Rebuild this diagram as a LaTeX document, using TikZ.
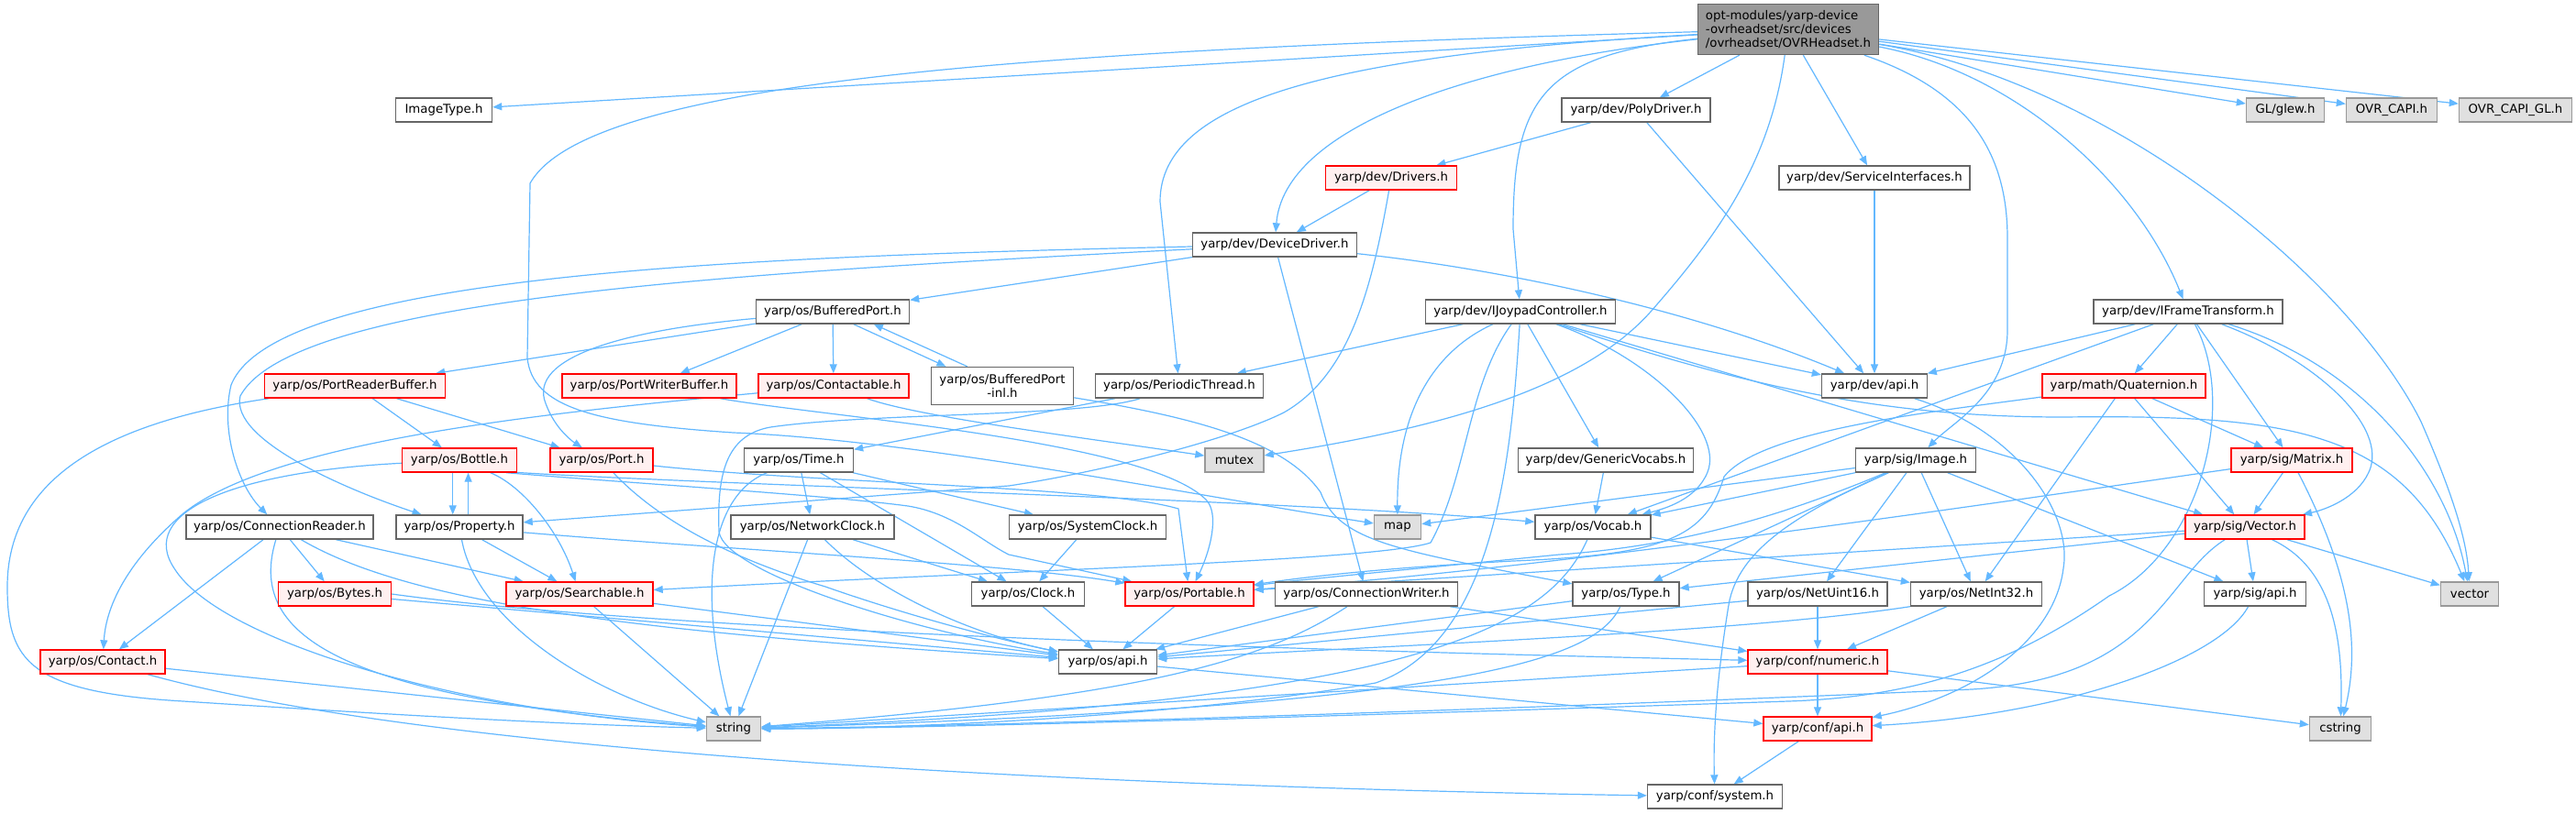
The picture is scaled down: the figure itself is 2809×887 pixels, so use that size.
\documentclass[tikz,border=0pt]{standalone}
\usepackage{fontspec}
\setmainfont{DejaVu Sans}
\usepackage{tikz}
\usetikzlibrary{arrows.meta}
\pgfdeclarelayer{background}
\pgfsetlayers{background,main}
\definecolor{incblue}{HTML}{63B8FF}
\definecolor{boxgrey}{HTML}{666666}
\definecolor{sysgrey}{HTML}{999999}
\definecolor{sysfill}{HTML}{E0E0E0}
\definecolor{redfill}{HTML}{FFF0F0}
\definecolor{rootfill}{HTML}{999999}

\begin{document}
\begin{tikzpicture}[
  x=1pt, y=-1pt,
  hdr/.style={rectangle, draw=boxgrey, fill=white, line width=1.4pt,
              font=\fontsize{13.3}{15.3}\selectfont, inner sep=0pt,
              minimum height=26, align=center},
  hdrred/.style={hdr, draw=red, fill=redfill},
  hdrsys/.style={hdr, draw=sysgrey, fill=sysfill},
  hdrtop/.style={hdr, fill=rootfill, align=left},
  arr/.style={draw=incblue, line width=1.2pt, -{Triangle[length=10pt,width=8pt]}}
]
\useasboundingbox (0,0) rectangle (2809,887);
% the header itself
\node[hdrtop, minimum width=197, minimum height=55] (root) at (1950,32)
  {opt-modules/yarp-device\\-ovrheadset/src/devices\\/ovrheadset/OVRHeadset.h};
% rank 1
\node[hdr, minimum width=105] (imgtype) at (484,120) {ImageType.h};
\node[hdr, minimum width=162] (polydrv) at (1784,120) {yarp/dev/PolyDriver.h};
\node[hdrsys, minimum width=85] (glew) at (2492,120) {GL/glew.h};
\node[hdrsys, minimum width=99] (ovrcapi) at (2608,120) {OVR\_CAPI.h};
\node[hdrsys, minimum width=123] (ovrcapigl) at (2743,120) {OVR\_CAPI\_GL.h};
% rank 2
\node[hdrred, minimum width=143] (drivers) at (1517,194) {yarp/dev/Drivers.h};
\node[hdr, minimum width=208] (srvif) at (2044,194) {yarp/dev/ServiceInterfaces.h};
% rank 3
\node[hdr, minimum width=179] (devdrv) at (1390,267) {yarp/dev/DeviceDriver.h};
% rank 4
\node[hdr, minimum width=167] (bufport) at (908,340) {yarp/os/BufferedPort.h};
\node[hdr, minimum width=207] (joypad) at (1658,340) {yarp/dev/IJoypadController.h};
\node[hdr, minimum width=206] (frametf) at (2386,340) {yarp/dev/IFrameTransform.h};
% rank 5
\node[hdrred, minimum width=197] (prbuf) at (387,421) {yarp/os/PortReaderBuffer.h};
\node[hdrred, minimum width=190] (pwbuf) at (708,421) {yarp/os/PortWriterBuffer.h};
\node[hdrred, minimum width=164] (contactable) at (909,421) {yarp/os/Contactable.h};
\node[hdr, minimum width=155, minimum height=41] (bpinl) at (1093,421) {yarp/os/BufferedPort\\-inl.h};
\node[hdr, minimum width=183] (perthread) at (1286,421) {yarp/os/PeriodicThread.h};
\node[hdr, minimum width=115] (devapi) at (2044,421) {yarp/dev/api.h};
\node[hdrred, minimum width=178] (quat) at (2316,421) {yarp/math/Quaternion.h};
% rank 6
\node[hdrred, minimum width=125] (bottle) at (501,502) {yarp/os/Bottle.h};
\node[hdrred, minimum width=112] (port) at (656,502) {yarp/os/Port.h};
\node[hdr, minimum width=119] (time) at (871,502) {yarp/os/Time.h};
\node[hdrsys, minimum width=64] (mutex) at (1346,502) {mutex};
\node[hdr, minimum width=191] (genvoc) at (1751,502) {yarp/dev/GenericVocabs.h};
\node[hdr, minimum width=131] (sigimage) at (2089,502) {yarp/sig/Image.h};
\node[hdrred, minimum width=132] (matrix) at (2499,502) {yarp/sig/Matrix.h};
% rank 7
\node[hdr, minimum width=204] (connreader) at (305,575) {yarp/os/ConnectionReader.h};
\node[hdr, minimum width=138] (property) at (501,575) {yarp/os/Property.h};
\node[hdr, minimum width=178] (netclock) at (886,575) {yarp/os/NetworkClock.h};
\node[hdr, minimum width=171] (sysclock) at (1186,575) {yarp/os/SystemClock.h};
\node[hdrsys, minimum width=51] (map) at (1524,575) {map};
\node[hdr, minimum width=126] (vocab) at (1737,575) {yarp/os/Vocab.h};
\node[hdrred, minimum width=130] (sigvector) at (2448,575) {yarp/sig/Vector.h};
% rank 8
\node[hdrred, minimum width=123] (bytes) at (365,648) {yarp/os/Bytes.h};
\node[hdrred, minimum width=160] (searchable) at (632,648) {yarp/os/Searchable.h};
\node[hdr, minimum width=123] (clock) at (1121,648) {yarp/os/Clock.h};
\node[hdrred, minimum width=140] (portable) at (1297,648) {yarp/os/Portable.h};
\node[hdr, minimum width=199] (connwriter) at (1490,648) {yarp/os/ConnectionWriter.h};
\node[hdr, minimum width=116] (type) at (1773,648) {yarp/os/Type.h};
\node[hdr, minimum width=152] (netuint16) at (1982,648) {yarp/os/NetUint16.h};
\node[hdr, minimum width=143] (netint32) at (2155,648) {yarp/os/NetInt32.h};
\node[hdr, minimum width=111] (sigapi) at (2459,648) {yarp/sig/api.h};
\node[hdrsys, minimum width=63] (vector) at (2693,648) {vector};
% rank 9
\node[hdrred, minimum width=136] (contact) at (112,722) {yarp/os/Contact.h};
\node[hdr, minimum width=107] (osapi) at (1208,722) {yarp/os/api.h};
\node[hdrred, minimum width=152] (numeric) at (1982,722) {yarp/conf/numeric.h};
% rank 10
\node[hdrsys, minimum width=59] (string) at (800,795) {string};
\node[hdrred, minimum width=118] (confapi) at (1982,795) {yarp/conf/api.h};
\node[hdrsys, minimum width=67] (cstring) at (2552,795) {cstring};
% rank 11
\node[hdr, minimum width=147] (confsystem) at (1870,869) {yarp/conf/system.h};

\begin{pgfonlayer}{background}
\fill[white] (0,0) rectangle (2809,887);
% includes of the header
\draw[arr] (root) -- (imgtype);
\draw[arr] (root) .. controls (1100,55) and (640,90) .. (578,200) -- (575,390)
  .. controls (580,445) and (650,462) .. (800,472)
  .. controls (1000,480) and (1300,540) .. (map);
\draw[arr] (root) .. controls (1600,70) and (1400,140) .. (devdrv);
\draw[arr] (root) .. controls (1450,60) and (1265,110) .. (1265,220) -- (perthread);
\draw[arr] (root) .. controls (1680,60) and (1650,110) .. (1650,250) -- (joypad);
\draw[arr] (root) -- (polydrv);
\draw[arr] (root) .. controls (1930,180) and (1870,260) .. (1800,340)
  .. controls (1720,430) and (1550,470) .. (mutex);
\draw[arr] (root) -- (srvif);
\draw[arr] (root) .. controls (2150,100) and (2189,170) .. (2189,260) -- (2189,360)
  .. controls (2189,430) and (2130,460) .. (sigimage);
\draw[arr] (root) .. controls (2200,80) and (2330,200) .. (frametf);
\draw[arr] (root) .. controls (2300,90) and (2560,300) .. (2640,460)
  .. controls (2675,540) and (2690,590) .. (vector);
\draw[arr] (root) -- (glew);
\draw[arr] (root) -- (ovrcapi);
\draw[arr] (root) -- (ovrcapigl);
% dev headers
\draw[arr] (polydrv) -- (drivers);
\draw[arr] (polydrv) -- (devapi);
\draw[arr] (drivers) -- (devdrv);
\draw[arr] (drivers) .. controls (1495,320) and (1470,410) .. (1400,450)
  .. controls (1340,480) and (1200,515) .. (1100,530) -- (property);
\draw[arr] (srvif) -- (devapi);
\draw[arr] (devdrv) -- (bufport);
\draw[arr] (devdrv) .. controls (1650,295) and (1850,340) .. (devapi);
\draw[arr] (devdrv) .. controls (800,280) and (300,300) .. (252,420)
  .. controls (240,470) and (260,530) .. (connreader);
\draw[arr] (devdrv) .. controls (800,298) and (320,325) .. (262,432)
  .. controls (250,480) and (380,535) .. (property);
\draw[arr] (devdrv) -- (connwriter);
% buffered port
\draw[arr] (bufport) -- (prbuf);
\draw[arr] (bufport) -- (pwbuf);
\draw[arr] (bufport) -- (contactable);
\draw[arr] (bufport.-31) -- (bpinl.161);
\draw[arr] (bpinl.151) -- (bufport.-17);
\draw[arr] (bufport) .. controls (680,360) and (575,390) .. (595,440)
  .. controls (605,468) and (625,482) .. (port);
\draw[arr] (bpinl) .. controls (1300,455) and (1400,480) .. (1440,537)
  .. controls (1460,590) and (1520,600) .. (type);
\draw[arr] (prbuf) .. controls (120,460) and (8,520) .. (8,640)
  .. controls (8,720) and (30,755) .. (200,765)
  .. controls (400,778) and (600,790) .. (string);
\draw[arr] (prbuf) -- (bottle);
\draw[arr] (prbuf) -- (port);
\draw[arr] (pwbuf) .. controls (900,455) and (1250,480) .. (1315,545)
  .. controls (1330,560) and (1320,600) .. (portable);
\draw[arr] (contactable) .. controls (600,450) and (300,480) .. (200,560)
  .. controls (130,620) and (115,670) .. (contact);
\draw[arr] (contactable) .. controls (1000,455) and (1200,480) .. (mutex);
\draw[arr] (perthread) -- (time);
\draw[arr] (perthread) .. controls (1180,455) and (950,450) .. (840,466)
  .. controls (790,475) and (782,520) .. (784,580)
  .. controls (790,625) and (1000,690) .. (osapi);
% joypad controller
\draw[arr] (joypad) -- (perthread);
\draw[arr] (joypad) .. controls (1570,380) and (1523,440) .. (map);
\draw[arr] (joypad) .. controls (1600,420) and (1600,520) .. (1560,592)
  .. controls (1500,612) and (1100,622) .. (searchable);
\draw[arr] (joypad) .. controls (1648,500) and (1630,700) .. (1500,745)
  .. controls (1300,780) and (1000,795) .. (string);
\draw[arr] (joypad) -- (genvoc);
\draw[arr] (joypad) .. controls (1800,390) and (1880,470) .. (1862,515)
  .. controls (1850,545) and (1815,555) .. (vocab);
\draw[arr] (joypad) -- (devapi);
\draw[arr] (joypad) -- (sigvector);
\draw[arr] (joypad) .. controls (1900,420) and (2050,455) .. (2250,455)
  .. controls (2500,452) and (2620,470) .. (vector);
% frame transform
\draw[arr] (frametf) -- (devapi);
\draw[arr] (frametf) -- (vocab);
\draw[arr] (frametf) -- (quat);
\draw[arr] (frametf) .. controls (2440,440) and (2400,600) .. (2300,650)
  .. controls (2200,720) and (2100,760) .. (1950,765)
  .. controls (1500,780) and (1000,795) .. (string);
\draw[arr] (frametf) -- (matrix);
\draw[arr] (frametf) .. controls (2520,390) and (2600,460) .. (2585,510)
  .. controls (2575,540) and (2540,555) .. (sigvector);
\draw[arr] (frametf) .. controls (2580,400) and (2670,520) .. (vector);
\draw[arr] (quat) .. controls (2100,450) and (1920,470) .. (1880,520)
  .. controls (1860,585) and (1820,605) .. (1650,612)
  .. controls (1500,620) and (1420,630) .. (portable);
\draw[arr] (quat) -- (netint32);
\draw[arr] (quat) -- (sigvector);
\draw[arr] (quat) -- (matrix);
% os headers
\draw[arr] (bottle.-118) -- (property.118);
\draw[arr] (property.55) -- (bottle.-55);
\draw[arr] (bottle) .. controls (570,530) and (610,580) .. (searchable);
\draw[arr] (bottle) .. controls (250,515) and (150,560) .. (190,620)
  .. controls (240,700) and (500,775) .. (string);
\draw[arr] (bottle.-15) .. controls (700,528) and (900,540) .. (990,552)
  .. controls (1040,560) and (1070,590) .. (1100,605) -- (portable);
\draw[arr] (bottle.-12) .. controls (800,530) and (1400,545) .. (vocab);
\draw[arr] (property) -- (searchable);
\draw[arr] (property) .. controls (800,600) and (1100,615) .. (portable);
\draw[arr] (property) .. controls (520,680) and (650,760) .. (string);
\draw[arr] (connreader) -- (contact);
\draw[arr] (connreader) -- (bytes);
\draw[arr] (connreader) -- (searchable);
\draw[arr] (connreader) .. controls (270,690) and (360,760) .. (string);
\draw[arr] (connreader) .. controls (450,660) and (700,690) .. (osapi);
\draw[arr] (time) .. controls (775,540) and (760,640) .. (string);
\draw[arr] (time) -- (netclock);
\draw[arr] (time) -- (clock);
\draw[arr] (time) -- (sysclock);
\draw[arr] (netclock) -- (string);
\draw[arr] (netclock) .. controls (950,640) and (1050,690) .. (osapi);
\draw[arr] (netclock) -- (clock);
\draw[arr] (sysclock) -- (clock);
\draw[arr] (clock) -- (osapi);
\draw[arr] (portable) -- (osapi);
\draw[arr] (port) .. controls (720,570) and (800,610) .. (900,640)
  .. controls (1000,675) and (1100,700) .. (osapi);
\draw[arr] (port) .. controls (900,528) and (1200,530) .. (1285,555) -- (portable);
\draw[arr] (searchable) -- (string);
\draw[arr] (searchable) -- (osapi);
\draw[arr] (bytes) -- (osapi);
\draw[arr] (bytes.east) .. controls (600,672) and (1000,700) .. (numeric);
\draw[arr] (contact) -- (string);
\draw[arr] (contact) .. controls (500,830) and (1300,860) .. (confsystem);
\draw[arr] (connwriter) -- (osapi);
\draw[arr] (connwriter) .. controls (1380,720) and (1250,760) .. (string);
\draw[arr] (connwriter) -- (numeric);
\draw[arr] (type) -- (osapi);
\draw[arr] (type) .. controls (1740,720) and (1600,770) .. (string);
\draw[arr] (genvoc) -- (vocab);
\draw[arr] (vocab) .. controls (1690,680) and (1560,765) .. (string);
\draw[arr] (vocab) -- (netint32);
\draw[arr] (netuint16) -- (numeric);
\draw[arr] (netuint16) -- (osapi);
\draw[arr] (netint32) -- (numeric);
\draw[arr] (netint32.south west) .. controls (1900,690) and (1500,705) .. (osapi);
% sig headers
\draw[arr] (sigimage) -- (map);
\draw[arr] (sigimage) -- (vocab);
\draw[arr] (sigimage) .. controls (1950,560) and (1840,595) .. (1700,605)
  .. controls (1550,620) and (1420,632) .. (portable);
\draw[arr] (sigimage) -- (type);
\draw[arr] (sigimage) .. controls (1960,560) and (1895,600) .. (1885,660)
  .. controls (1872,740) and (1868,800) .. (confsystem);
\draw[arr] (sigimage) -- (netuint16);
\draw[arr] (sigimage) -- (netint32);
\draw[arr] (sigimage) -- (sigapi);
\draw[arr] (matrix) -- (sigvector);
\draw[arr] (matrix) .. controls (2200,545) and (1700,620) .. (portable);
\draw[arr] (matrix) .. controls (2560,620) and (2575,700) .. (cstring);
\draw[arr] (sigvector) -- (portable);
\draw[arr] (sigvector) -- (type);
\draw[arr] (sigvector) .. controls (2360,630) and (2350,740) .. (2150,752)
  .. controls (1700,772) and (1100,792) .. (string);
\draw[arr] (sigvector) -- (sigapi);
\draw[arr] (sigvector) .. controls (2545,620) and (2555,700) .. (cstring);
\draw[arr] (sigvector) -- (vector);
% conf headers
\draw[arr] (sigapi) .. controls (2420,720) and (2250,780) .. (confapi);
\draw[arr] (devapi) .. controls (2200,470) and (2260,560) .. (2250,620)
  .. controls (2240,700) and (2150,760) .. (confapi);
\draw[arr] (osapi) -- (confapi);
\draw[arr] (numeric) -- (string);
\draw[arr] (numeric) -- (confapi);
\draw[arr] (numeric) -- (cstring);
\draw[arr] (confapi) -- (confsystem);
\end{pgfonlayer}
\end{tikzpicture}
\end{document}
